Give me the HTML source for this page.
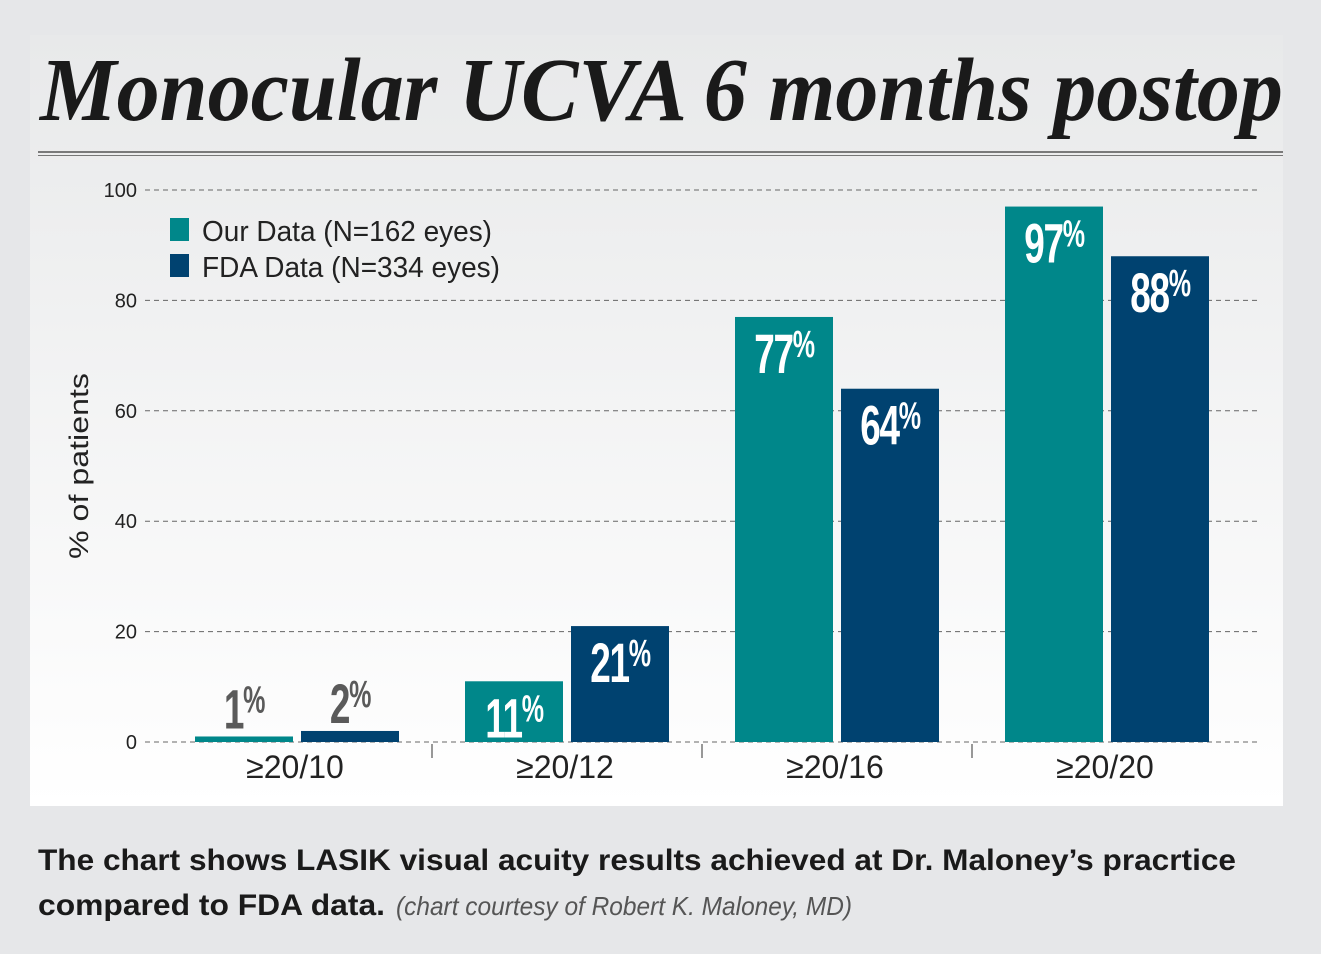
<!DOCTYPE html>
<html><head><meta charset="utf-8"><style>
html,body{margin:0;padding:0;background:#e6e7e9;}
svg{display:block;}
</style></head><body>
<svg width="1321" height="954" viewBox="0 0 1321 954" xmlns="http://www.w3.org/2000/svg">
<defs>
<linearGradient id="pg" x1="0" y1="0" x2="0" y2="1">
<stop offset="0" stop-color="#e8e9ea"/><stop offset="1" stop-color="#ffffff"/>
</linearGradient>
</defs>
<rect x="0" y="0" width="1321" height="954" fill="#e6e7e9"/>
<rect x="30" y="35" width="1253" height="771" fill="url(#pg)"/>
<text x="40" y="120" font-family="Liberation Serif, serif" font-weight="bold" font-style="italic" font-size="90" fill="#1a1a1a" textLength="1243" lengthAdjust="spacingAndGlyphs">Monocular UCVA 6 months postop</text>
<line x1="38" y1="152" x2="1283" y2="152" stroke="#555" stroke-width="1.5"/>
<line x1="38" y1="155.5" x2="1283" y2="155.5" stroke="#777" stroke-width="1"/>
<g id="grid"></g>
<g id="bars"></g>
<g id="labels"></g>
<text transform="translate(88,466) rotate(-90)" text-anchor="middle" font-family="Liberation Sans, sans-serif" font-size="27" fill="#222" textLength="186" lengthAdjust="spacingAndGlyphs">% of patients</text>
<g>
<rect x="170" y="218" width="19" height="23" fill="#00878a"/>
<text x="202" y="241" font-family="Liberation Sans, sans-serif" font-size="29" fill="#222" textLength="290" lengthAdjust="spacingAndGlyphs">Our Data (N=162 eyes)</text>
<rect x="170" y="254" width="19" height="23" fill="#004270"/>
<text x="202" y="277" font-family="Liberation Sans, sans-serif" font-size="29" fill="#222" textLength="298" lengthAdjust="spacingAndGlyphs">FDA Data (N=334 eyes)</text>
</g>
<text x="38" y="870" font-family="Liberation Sans, sans-serif" font-weight="bold" font-size="30" fill="#1a1a1a" textLength="1198" lengthAdjust="spacingAndGlyphs">The chart shows LASIK visual acuity results achieved at Dr. Maloney’s pracrtice</text>
<text x="38" y="915" font-family="Liberation Sans, sans-serif" font-weight="bold" font-size="30" fill="#1a1a1a" textLength="347" lengthAdjust="spacingAndGlyphs">compared to FDA data.</text>
<text x="396" y="915" font-family="Liberation Sans, sans-serif" font-style="italic" font-size="26" fill="#555" textLength="456" lengthAdjust="spacingAndGlyphs">(chart courtesy of Robert K. Maloney, MD)</text>
</svg>
<script>
const categories = ["≥20/10","≥20/12","≥20/16","≥20/20"];
const ourData = [1, 11, 77, 97];
const fdaData = [2, 21, 64, 88];
const yTicks = [0, 20, 40, 60, 80, 100];

const NS = "http://www.w3.org/2000/svg";
const y0 = 742, pxPerUnit = 5.52, plotL = 145, plotR = 1258, groupStart = 162, groupW = 270;
const yScale = v => y0 - v * pxPerUnit;
const xCenter = i => groupStart + groupW * (i + 0.5);
function mk(tag, attrs, parent) {
  const e = document.createElementNS(NS, tag);
  for (const k in attrs) e.setAttribute(k, attrs[k]);
  parent.appendChild(e);
  return e;
}
const grid = document.getElementById('grid');
const bars = document.getElementById('bars');
const labels = document.getElementById('labels');
const font = "Liberation Sans, sans-serif";

yTicks.forEach(t => {
  const ln = mk('line', {x1: plotL, x2: plotR, y1: yScale(t), y2: yScale(t), stroke: '#666', 'stroke-width': 1, 'stroke-dasharray': '5,4'}, grid);
  
  
  const tx = mk('text', {x: 137, y: yScale(t) + 7, 'text-anchor': 'end', 'font-family': font, 'font-size': 20, fill: '#222'}, grid);
  tx.textContent = t;
  
  
});

for (let i = 1; i < categories.length; i++) {
  const xt = groupStart + groupW * i;
  const tk = mk('line', {x1: xt, x2: xt, y1: y0 + 2, y2: y0 + 16, stroke: '#333', 'stroke-width': 1}, grid);
  
  
}

function valueLabel(v, cx, top, inside, idx, series) {
  const fill = inside ? '#ffffff' : '#5a5a5a';
  const baseY = inside ? top + 56 : top - 8;
  const g = mk('text', {x: cx, y: baseY, 'text-anchor': 'middle', 'font-family': font, 'font-weight': 'bold', 'font-size': 56, fill: fill, transform: `translate(${cx},0) scale(0.66,1) translate(${-cx},0)`, 'letter-spacing': '-2'}, labels);
  
  
  const a = mk('tspan', {}, g); a.textContent = v;
  const b = mk('tspan', {'font-size': 38, dy: -16}, g); b.textContent = '%';
}

categories.forEach((c, i) => {
  const cx = xCenter(i);
  const series = [[ourData[i], '#00878a', -102, 'our-data'], [fdaData[i], '#004270', 4, 'fda-data']];
  series.forEach(([v, col, off, name]) => {
    const top = yScale(v);
    const r = mk('rect', {x: cx + off, y: top, width: 98, height: y0 - top, fill: col}, bars);
    
    
    valueLabel(v, cx + off + 49, top, v > 8, i, name);
  });
  const lt = mk('text', {x: cx - 2, y: 778, 'text-anchor': 'middle', 'font-family': 'Liberation Sans, sans-serif', 'font-size': 32, fill: '#222'}, labels);
  lt.textContent = c;
  
  
});
</script>
</body></html>
